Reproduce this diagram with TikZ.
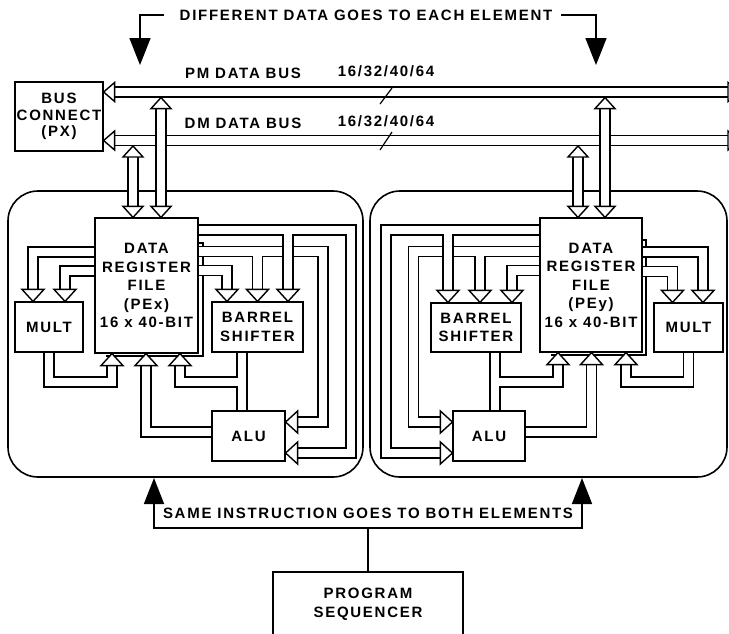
\documentclass[tikz,border=0pt]{standalone}
\usepackage{fontspec}
\newfontfamily\dgfam[LetterSpace=11.5]{Liberation Sans}
\newcommand\dgfont{\dgfam\bfseries\fontsize{15}{18.5}\selectfont}
\usetikzlibrary{arrows.meta}
\pgfdeclarelayer{pelayer}
\pgfdeclarelayer{wires}
\pgfsetlayers{pelayer,wires,main}
\newcommand\hdD[2]{\draw[hd] (#1,#2) -- ++(-11,-12) -- ++(22,0) -- cycle;}
\newcommand\hdU[2]{\draw[hd] (#1,#2) -- ++(-11,12) -- ++(22,0) -- cycle;}
\newcommand\hdL[2]{\draw[hd] (#1,#2) -- ++(12,-11) -- ++(0,22) -- cycle;}
\newcommand\hdR[2]{\draw[hd] (#1,#2) -- ++(-12,-11) -- ++(0,22) -- cycle;}
\newcommand\bhD[2]{\draw[hd] (#1,#2) -- ++(-10,-11) -- ++(20,0) -- cycle;}
\newcommand\bhU[2]{\draw[hd] (#1,#2) -- ++(-10,11) -- ++(20,0) -- cycle;}
\newcommand\bhL[2]{\draw[hd] (#1,#2) -- ++(11,-9.5) -- ++(0,19) -- cycle;}
\newcommand\bhR[2]{\draw[hd] (#1,#2) -- ++(-11,-9.5) -- ++(0,19) -- cycle;}
\tikzset{
  box/.style={draw, line width=1.5pt, fill=white, inner sep=0pt, align=center, font=\dgfont},
  lab/.style={inner sep=0pt, font=\dgfont},
  hd/.style={draw, fill=white, line width=1.4pt, line join=miter},
  dbl/.style={draw=black, line width=1.4pt, double=white, double distance=8.5pt},
  pebox/.style={draw, line width=1.6pt, rounded corners=30pt, inner sep=0pt},
  thk/.style={line width=1.7pt},
  shadowline/.style={line width=1.2pt},
}
\begin{document}
\begin{tikzpicture}[x=1pt,y=-1pt]
\useasboundingbox (0,0) rectangle (729,633);

% processing element containers
\begin{pgfonlayer}{pelayer}
\fill[white] (0,0) rectangle (729,633);
\node[pebox, minimum width=355pt, minimum height=286pt] (peL) at (185.5,334) {};
\node[pebox, minimum width=357pt, minimum height=286pt] (peR) at (548.5,334) {};
\end{pgfonlayer}

% boxes
\node[box, minimum width=88pt, minimum height=69pt, font={\dgfam\bfseries\fontsize{15}{16.5}\selectfont}] (bc) at (59,116.5) {BUS\\CONNECT\\(PX)};
\node[box, minimum width=103pt, minimum height=135pt] (drfL) at (146.5,285.5) {DATA\\REGISTER\\FILE\\(PEx)\\16 x 40-BIT};
\node[box, minimum width=68pt, minimum height=50pt] (multL) at (49,327) {MULT};
\node[box, minimum width=91pt, minimum height=50pt] (bsL) at (257.5,327) {BARREL\\SHIFTER};
\node[box, minimum width=73pt, minimum height=50pt] (aluL) at (248.5,436) {ALU};
\node[box, minimum width=102pt, minimum height=134pt] (drfR) at (591,285) {DATA\\REGISTER\\FILE\\(PEy)\\16 x 40-BIT};
\node[box, minimum width=69pt, minimum height=49pt] (multR) at (688.5,327.5) {MULT};
\node[box, minimum width=90pt, minimum height=49pt] (bsR) at (476,327.5) {BARREL\\SHIFTER};
\node[box, minimum width=72pt, minimum height=50pt] (aluR) at (489,436) {ALU};
\node[box, minimum width=190pt, minimum height=64pt] (ps) at (368,604) {PROGRAM\\SEQUENCER};

% labels
\node[lab] (dd) at (366,15) {DIFFERENT DATA GOES TO EACH ELEMENT};
\node[lab] (pmt) at (243,73) {PM DATA BUS};
\node[lab] (pmw) at (386,71) {16/32/40/64};
\node[lab] (dmt) at (243,123) {DM DATA BUS};
\node[lab] (dmw) at (386,121) {16/32/40/64};
\node[lab] (same) at (368,513) {SAME INSTRUCTION GOES TO BOTH ELEMENTS};

\begin{pgfonlayer}{wires}
% buses
\draw[dbl] (bc.east |- 0,92) ++(11,0) -- (740,92);
\draw[dbl] (bc.east |- 0,140.5) ++(11,0) -- (740,140.5);
% bus to register file
\draw[dbl] (133,156.5) -- (133,207);
\draw[dbl] (161,108.5) -- (161,207);
\draw[dbl] (578,156.5) -- (578,207);
\draw[dbl] (605,108.5) -- (605,207);
% register file shadow lines
\draw[shadowline] (drfL.east |- 0,243) -- (203,243) -- (203,356) -- (106,356);
\draw[shadowline] (drfR.east |- 0,240) -- (646,240) -- (646,355) -- (551,355);
% left element
\draw[dbl] (drfL.west |- 0,252) -- (33,252) -- (33,290);
\draw[dbl] (drfL.west |- 0,271) -- (65,271) -- (65,290);
\draw[dbl] (multL.south) -- (49,382) -- (112,382) -- (112,364);
\draw[dbl] (aluL.west |- 0,432) -- (146,432) -- (146,364);
\draw[dbl] (bsL.south -| 242,0) -- (aluL.north -| 242,0) (242,382) -- (180,382) -- (180,364);
\draw[dbl] (drfL.east |- 0,251.5) -- (323,251.5) -- (323,422) -- (297,422) (257.5,251.5) -- (257.5,290);
\draw[dbl] (drfL.east |- 0,230) -- (351,230) -- (351,453) -- (297,453) (288,230) -- (288,290);
\draw[dbl] (drfL.east |- 0,270.5) -- (227,270.5) -- (227,290);
% right element
\draw[dbl] (drfR.east |- 0,252) -- (703,252) -- (703,290);
\draw[dbl] (drfR.east |- 0,271.5) -- (672.5,271.5) -- (672.5,290);
\draw[dbl] (multR.south) -- (688.5,382) -- (626,382) -- (626,364);
\draw[dbl] (aluR.east |- 0,432) -- (591.5,432) -- (591.5,364);
\draw[dbl] (bsR.south -| 495,0) -- (aluR.north -| 495,0) (495,382) -- (558,382) -- (558,364);
\draw[dbl] (drfR.west |- 0,251.5) -- (413.5,251.5) -- (413.5,422) -- (441,422) (480,251.5) -- (480,290);
\draw[dbl] (drfR.west |- 0,230) -- (386,230) -- (386,453) -- (441,453) (448,230) -- (448,290);
\draw[dbl] (drfR.west |- 0,270.5) -- (512,270.5) -- (512,290);
\end{pgfonlayer}

% bus heads
\bhL{103.6}{92} \bhL{103.6}{140.5} \bhR{739}{92} \bhR{739}{140.5}
\bhU{133}{146}  \bhU{161}{97.6}  \bhD{133}{217.4} \bhD{161}{217.4}
\bhU{578}{146}  \bhU{605}{97.6}  \bhD{578}{217.4} \bhD{605}{217.4}
% left heads
\hdD{33}{301.4} \hdD{65}{301.4}
\hdU{112}{353.6} \hdU{146}{353.6} \hdU{180}{353.6}
\hdL{285.6}{422} \hdL{285.6}{453}
\hdD{227}{301.4} \hdD{257.5}{301.4} \hdD{288}{301.4}
% right heads
\hdD{703}{302.4} \hdD{672.5}{302.4}
\hdU{626}{352.6} \hdU{591.5}{352.6} \hdU{558}{352.6}
\hdR{452.4}{422} \hdR{452.4}{453}
\hdD{448}{302.4} \hdD{480}{302.4} \hdD{512}{302.4}

% bus width slashes
\draw[line width=1.2pt] (392,88) -- (380,104);
\draw[line width=1.2pt] (392,132) -- (380,150);

% annotation arrows
\coordinate (ddL) at (140,65);
\coordinate (ddR) at (596,65);
\draw[thk,-{Triangle[length=27pt,width=21pt]}] ([xshift=-16pt]dd.west) -| (ddL);
\draw[thk,-{Triangle[length=27pt,width=21pt]}] ([xshift=9pt]dd.east) -| (ddR);
\coordinate (jn) at (368,528);
\coordinate (siL) at (154,478);
\coordinate (siR) at (582,478);
\draw[thk] (ps.north) -- (jn);
\draw[thk,-{Triangle[length=26pt,width=20pt]}] (jn) -| (siL);
\draw[thk,-{Triangle[length=26pt,width=20pt]}] (jn) -| (siR);
\end{tikzpicture}
\end{document}
